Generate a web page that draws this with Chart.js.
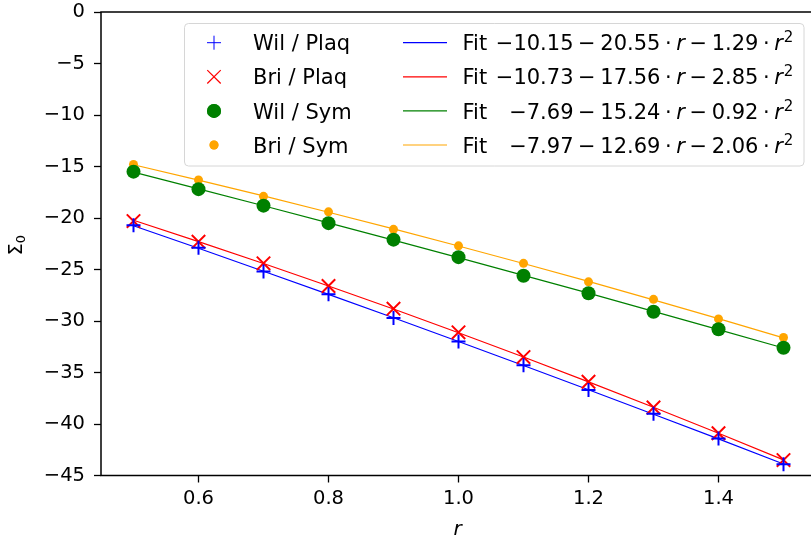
<!DOCTYPE html>
<html>
<head>
<meta charset="utf-8">
<script src="https://cdn.jsdelivr.net/npm/chart.js@4.4.1/dist/chart.umd.min.js"></script>
<style>
  html, body { margin: 0; padding: 0; background: #fff; overflow: hidden; }
  #wrap { width: 811px; height: 540px; overflow: hidden; position: relative; }
  #c { display: block; }
</style>
</head>
<body>
<div id="wrap"><canvas id="c" width="828" height="540" style="width:828px;height:540px"></canvas></div>
<script>
// ---- data ----
const rValues = [0.5, 0.6, 0.7, 0.8, 0.9, 1.0, 1.1, 1.2, 1.3, 1.4, 1.5];
const wilPlaq = [-20.7, -22.9, -25.2, -27.4, -29.7, -32.0, -34.3, -36.7, -39.0, -41.4, -43.9];
const briPlaq = [-20.3, -22.3, -24.4, -26.6, -28.8, -31.1, -33.5, -35.9, -38.4, -40.9, -43.5];
const wilSym  = [-15.5, -17.2, -18.8, -20.5, -22.1, -23.8, -25.6, -27.3, -29.1, -30.8, -32.6];
const briSym  = [-14.8, -16.3, -17.9, -19.4, -21.1, -22.7, -24.4, -26.2, -27.9, -29.8, -31.6];
const fitWilPlaq = [-20.75, -22.94, -25.17, -27.42, -29.69, -31.99, -34.32, -36.67, -39.05, -41.45, -43.88];
const fitBriPlaq = [-20.22, -22.29, -24.42, -26.60, -28.84, -31.14, -33.49, -35.91, -38.37, -40.90, -43.48];
const fitWilSym  = [-15.54, -17.17, -18.81, -20.47, -22.15, -23.85, -25.57, -27.30, -29.06, -30.83, -32.62];
const fitBriSym  = [-14.83, -16.33, -17.86, -19.44, -21.06, -22.72, -24.42, -26.16, -27.95, -29.77, -31.64];
const seriesNames = ['Wil / Plaq', 'Bri / Plaq', 'Wil / Sym', 'Bri / Sym'];
const fitConst = ['\u221210.15', '\u221210.73', '\u22127.69', '\u22127.97'];
const fitLin   = ['20.55', '17.56', '15.24', '12.69'];
const fitQuad  = ['1.29', '2.85', '0.92', '2.06'];
const xTicks = [0.6, 0.8, 1.0, 1.2, 1.4];
const yTicks = [0, -5, -10, -15, -20, -25, -30, -35, -40, -45];

const colors = ['#0000ff', '#ff0000', '#008000', '#ffa500'];
const FONT = '"DejaVu Sans", Verdana, sans-serif';

const pts = arr => rValues.map((r, i) => ({ x: r, y: arr[i] }));
const markerSpecs = [
  { style: 'cross', radius: 7, bw: 2 },
  { style: 'crossRot', radius: 9.5, bw: 2 },
  { style: 'circle', radius: 7, bw: 0 },
  { style: 'circle', radius: 4.5, bw: 0 }
];
const markerData = [wilPlaq, briPlaq, wilSym, briSym];
const fitData = [fitWilPlaq, fitBriPlaq, fitWilSym, fitBriSym];

const datasets = [];
fitData.forEach((d, i) => datasets.push({
  label: 'Fit ' + seriesNames[i], data: pts(d), showLine: true, borderColor: colors[i],
  borderWidth: 1.2, pointRadius: 0, pointHoverRadius: 0, fill: false, tension: 0, order: 2
}));
markerData.forEach((d, i) => datasets.push({
  label: seriesNames[i], data: pts(d), showLine: false,
  pointStyle: markerSpecs[i].style, pointRadius: markerSpecs[i].radius,
  pointBorderWidth: markerSpecs[i].bw, pointBackgroundColor: colors[i],
  pointBorderColor: colors[i], borderColor: colors[i], backgroundColor: colors[i], order: 1
}));

const fmt = v => {
  const s = (Math.round(v * 10) / 10).toString();
  return s.replace('-', '\u2212');
};

const zeroPad = s => { s.paddingLeft = 0; s.paddingRight = 0; s.paddingTop = 0; s.paddingBottom = 0; };

const decorPlugin = {
  id: 'decor',
  afterDatasetsDraw(chart) {
    const { ctx, chartArea: a } = chart;
    ctx.save();
    ctx.strokeStyle = '#000';
    ctx.lineWidth = 1.5;
    ctx.strokeRect(a.left, a.top, a.right - a.left, a.bottom - a.top);
    ctx.restore();
  },
  afterDraw(chart) {
    const ctx = chart.ctx;
    const a = chart.chartArea;
    ctx.save();
    // axis titles
    ctx.fillStyle = '#000';
    ctx.textAlign = 'center';
    ctx.textBaseline = 'alphabetic';
    ctx.font = 'italic 20px ' + FONT;
    ctx.fillText('r', chart.scales.x.getPixelForValue(1.0) - 1, 535);
    ctx.save();
    ctx.translate(22, 245);
    ctx.rotate(-Math.PI / 2);
    ctx.textAlign = 'left';
    ctx.font = '19px ' + FONT;
    const wS = ctx.measureText('\u03A3').width;
    ctx.font = '13px ' + FONT;
    const w0 = ctx.measureText('0').width;
    const start = -(wS + w0) / 2;
    ctx.font = '19px ' + FONT;
    ctx.fillText('\u03A3', start, 0);
    ctx.font = '13px ' + FONT;
    ctx.fillText('0', start + wS, 3);
    ctx.restore();

    // legend
    const bx = 184.5, by = 23.5, bw = 619.5, bh = 142.5, rad = 4;
    ctx.beginPath();
    ctx.moveTo(bx + rad, by);
    ctx.arcTo(bx + bw, by, bx + bw, by + bh, rad);
    ctx.arcTo(bx + bw, by + bh, bx, by + bh, rad);
    ctx.arcTo(bx, by + bh, bx, by, rad);
    ctx.arcTo(bx, by, bx + bw, by, rad);
    ctx.closePath();
    ctx.fillStyle = 'rgba(255,255,255,0.8)';
    ctx.fill();
    ctx.strokeStyle = '#d6d6d6';
    ctx.lineWidth = 1;
    ctx.stroke();

    const F = '21px ' + FONT, FI = 'italic 21px ' + FONT, FS = '15px ' + FONT;
    const gap = 4.6;
    for (let i = 0; i < 4; i++) {
      const yc = 42.7 + i * 34.1;
      const base = yc + 7.6;
      // marker
      ctx.fillStyle = colors[i];
      ctx.strokeStyle = colors[i];
      Chart.helpers.drawPoint(ctx, {
        pointStyle: markerSpecs[i].style, radius: markerSpecs[i].radius,
        rotation: 0, borderWidth: markerSpecs[i].bw
      }, 214, yc);
      if (markerSpecs[i].style === 'circle') { ctx.fill(); }
      // label
      ctx.fillStyle = '#000';
      ctx.textAlign = 'left';
      ctx.textBaseline = 'alphabetic';
      ctx.font = F;
      ctx.fillText(seriesNames[i], 253, base);
      // line sample
      ctx.beginPath();
      ctx.moveTo(403, yc);
      ctx.lineTo(447, yc);
      ctx.strokeStyle = colors[i];
      ctx.lineWidth = 1.2;
      ctx.stroke();
      // fit text
      ctx.fillStyle = '#000';
      ctx.font = F;
      ctx.fillText('Fit', 462.5, base);
      const firstEnd = 573.5;
      ctx.font = F;
      let x = firstEnd - ctx.measureText(fitConst[i]).width;
      const tokens = [
        [fitConst[i], F, 0, 0], ['\u2212', F, gap, 0], [fitLin[i], F, gap, 0],
        ['\u00B7', F, gap, 0], ['r', FI, gap, 0], ['\u2212', F, gap, 0],
        [fitQuad[i], F, gap, 0], ['\u00B7', F, gap, 0], ['r', FI, gap, 0], ['2', FS, 0.8, -8]
      ];
      tokens.forEach(([t, f, g, dy]) => {
        x += g;
        ctx.font = f;
        ctx.fillText(t, x, base + dy);
        x += ctx.measureText(t).width;
      });
    }
    ctx.restore();
  }
};

new Chart(document.getElementById('c'), {
  type: 'scatter',
  data: { datasets },
  options: {
    responsive: false,
    animation: false,
    devicePixelRatio: 1,
    layout: { padding: { top: 12, right: 12, left: 0, bottom: 0 } },
    plugins: { legend: { display: false }, tooltip: { enabled: false } },
    scales: {
      x: {
        type: 'linear', min: 0.45, max: 1.55,
        afterBuildTicks: s => { s.ticks = xTicks.map(v => ({ value: v })); },
        afterFit: s => { s.height = 64.5; zeroPad(s); },
        border: { display: false },
        grid: { drawOnChartArea: false, drawTicks: true, tickLength: 7, tickColor: '#000', tickWidth: 1.3 },
        ticks: { color: '#000', font: { family: FONT, size: 19.5 }, padding: 5,
                 callback: v => v.toFixed(1), maxRotation: 0, autoSkip: false }
      },
      y: {
        type: 'linear', min: -45, max: 0,
        afterBuildTicks: s => { s.ticks = yTicks.map(v => ({ value: v })); },
        afterFit: s => { s.width = 101; zeroPad(s); },
        border: { display: false },
        grid: { drawOnChartArea: false, drawTicks: true, tickLength: 7, tickColor: '#000', tickWidth: 1.3 },
        ticks: { color: '#000', font: { family: FONT, size: 19.5 }, padding: 9,
                 callback: v => fmt(v), autoSkip: false }
      }
    }
  },
  plugins: [decorPlugin]
});
</script>
</body>
</html>
